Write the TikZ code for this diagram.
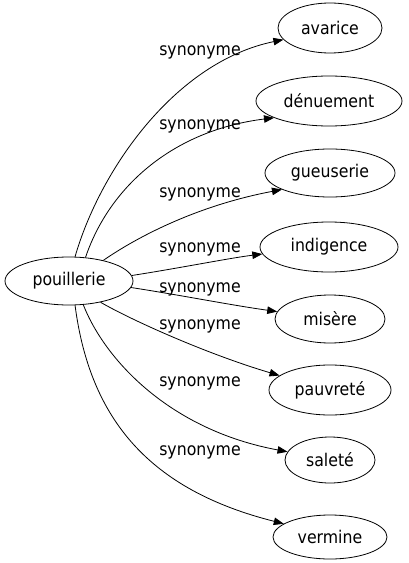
\documentclass[tikz,border=0pt]{standalone}
\usepackage{fontspec}
\setmainfont{DejaVu Sans Condensed}
\usetikzlibrary{shapes.geometric,arrows.meta}
\begin{document}
\begin{tikzpicture}[x=1bp,y=-1bp,
  word/.style={draw,ellipse,inner sep=0pt,line width=0.8bp,font=\fontsize{17.5bp}{20bp}\selectfont},
  rel/.style={line width=0.8bp,-{Triangle[length=10bp,width=7.5bp]}},
  lab/.style={font=\fontsize{17.5bp}{20bp}\selectfont,inner sep=0pt}]
\useasboundingbox (0,0) rectangle (408,563);
\node[word,minimum width=128bp,minimum height=48bp] (pou) at (69,281) {pouillerie};
\node[word,minimum width=104bp,minimum height=50bp] (ava) at (330,28) {avarice};
\node[word,minimum width=146bp,minimum height=50bp] (den) at (329,101) {dénuement};
\node[word,minimum width=130bp,minimum height=48bp] (gue) at (330,173) {gueuserie};
\node[word,minimum width=138bp,minimum height=50bp] (ind) at (329,247) {indigence};
\node[word,minimum width=110bp,minimum height=48bp] (mis) at (330,319) {misère};
\node[word,minimum width=122bp,minimum height=50bp] (pau) at (330,390) {pauvreté};
\node[word,minimum width=90bp,minimum height=46bp] (sal) at (330,460) {saleté};
\node[word,minimum width=114bp,minimum height=44bp] (ver) at (330,537) {vermine};
\node[lab] (l1) at (200,52) {synonyme};
\node[lab] (l2) at (200,126) {synonyme};
\node[lab] (l3) at (200,194) {synonyme};
\node[lab] (l4) at (200,249) {synonyme};
\node[lab] (l5) at (200,289) {synonyme};
\node[lab] (l6) at (200,326) {synonyme};
\node[lab] (l7) at (200,383) {synonyme};
\node[lab] (l8) at (200,452) {synonyme};
\draw[rel] (pou.76) .. controls (100,170) and (175,62) .. (ava.194);
\draw[rel] (pou.55) .. controls (110,185) and (175,130) .. (den.197);
\draw[rel] (pou.31) .. controls (140,235) and (200,205) .. (gue.199);
\draw[rel] (pou.5) .. controls (180,268) and (230,258) .. (ind.186);
\draw[rel] (pou.-6) .. controls (180,295) and (230,305) .. (mis.172);
\draw[rel] (pou.-34) .. controls (135,322) and (210,355) .. (pau.164);
\draw[rel] (pou.-59) .. controls (105,360) and (170,430) .. (sal.169);
\draw[rel] (pou.-76) .. controls (90,420) and (150,490) .. (ver.164);
\end{tikzpicture}
\end{document}
